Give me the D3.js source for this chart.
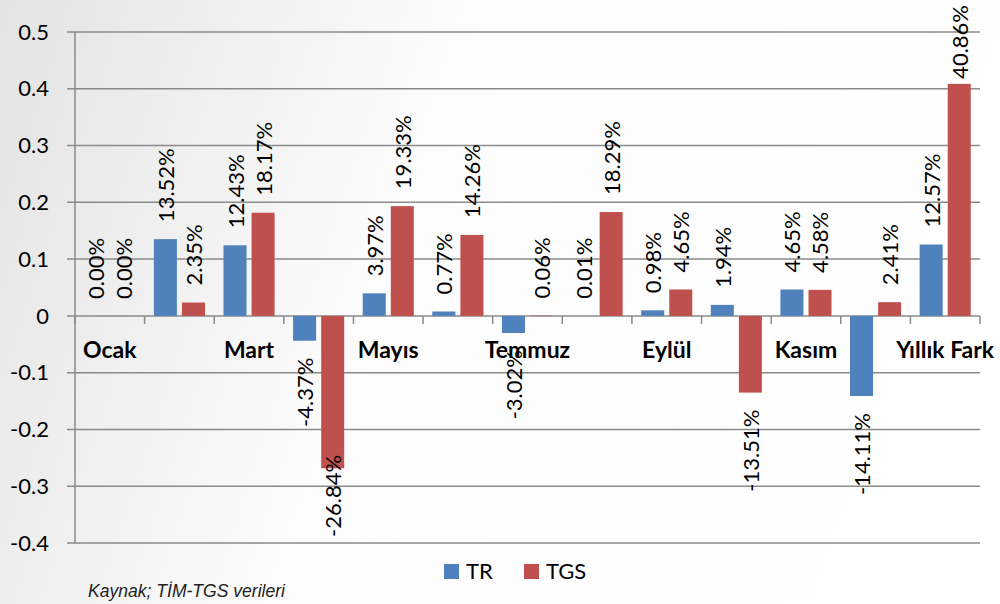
<!DOCTYPE html>
<html>
<head>
<meta charset="utf-8">
<script src="https://cdn.jsdelivr.net/npm/d3@7"></script>
<style>
  body { margin: 0; background: #fff; }
  svg { display: block; }
  text { font-family: Lato, "Open Sans", sans-serif; fill: #000; }
  .cat-label { font-weight: bold; font-size: 23px; }
  .tick-label { font-size: 22px; }
  .data-label { font-size: 22px; }
  .legend-label { font-size: 22px; }
  .source { font-family: "Liberation Sans", Arial, sans-serif; font-style: italic; font-size: 19px; fill: #222; }
</style>
</head>
<body>
<div id="chart"></div>
<script>
// months + yearly difference
const categories = ['Ocak', 'Şubat', 'Mart', 'Nisan', 'Mayıs', 'Haziran', 'Temmuz',
  'Ağustos', 'Eylül', 'Ekim', 'Kasım', 'Aralık', 'Yıllık Fark'];
const seriesNames = ['TR', 'TGS'];
const trValues = [0.0000, 0.1352, 0.1243, -0.0437, 0.0397, 0.0077, -0.0302,
  0.0001, 0.0098, 0.0194, 0.0465, -0.1411, 0.1257];
const tgsValues = [0.0000, 0.0235, 0.1817, -0.2684, 0.1933, 0.1426, 0.0006,
  0.1829, 0.0465, -0.1351, 0.0458, 0.0241, 0.4086];
const yTicks = [-0.4, -0.3, -0.2, -0.1, 0, 0.1, 0.2, 0.3, 0.4, 0.5];
const colors = ['#4f81bd', '#c0504d'];
const sourceText = 'Kaynak; TİM-TGS verileri';

// plain hyphen for negatives, like the original
const locale = d3.formatLocale({decimal: '.', thousands: ',', grouping: [3], currency: ['', ''], minus: '-'});

class GroupedBars {
  constructor(_config) {
    this.config = {
      parentElement: _config.parentElement,
      containerWidth: 1000,
      containerHeight: 604,
      margin: {top: 32, right: 20, bottom: 61, left: 75},
      labelGap: 17
    };
    this.initVis();
  }

  initVis() {
    let vis = this;
    vis.width = vis.config.containerWidth - vis.config.margin.left - vis.config.margin.right;
    vis.height = vis.config.containerHeight - vis.config.margin.top - vis.config.margin.bottom;

    vis.svg = d3.select(vis.config.parentElement).append('svg')
        .attr('width', vis.config.containerWidth)
        .attr('height', vis.config.containerHeight);

    // grey-to-white background wash
    const grad = vis.svg.append('defs').append('linearGradient')
        .attr('id', 'bg-gradient')
        .attr('x1', '0%').attr('x2', '100%')
        .attr('y1', '0%').attr('y2', '20%');
    grad.append('stop').attr('offset', '0%').attr('stop-color', '#e3e3e3');
    grad.append('stop').attr('offset', '45%').attr('stop-color', '#fcfcfc');
    grad.append('stop').attr('offset', '100%').attr('stop-color', '#ffffff');

    vis.svg.append('rect')
        .attr('width', vis.config.containerWidth)
        .attr('height', vis.config.containerHeight)
        .attr('fill', 'url(#bg-gradient)');

    vis.g = vis.svg.append('g')
        .attr('transform', `translate(${vis.config.margin.left},${vis.config.margin.top})`);

    vis.x = d3.scaleBand().domain(categories).range([0, vis.width]).padding(0);
    vis.x1 = d3.scaleBand().domain(seriesNames).range([0, vis.x.bandwidth()])
        .paddingInner(0.18).paddingOuter(0.33);
    vis.y = d3.scaleLinear().domain([-0.4, 0.5]).range([vis.height, 0]);

    vis.renderVis();
  }

  renderVis() {
    let vis = this;
    const y0 = vis.y(0);
    const fmtTick = locale.format('.1~f');
    const fmtPct = locale.format('.2%');

    // gridlines + y tick labels
    vis.g.append('g').selectAll('line')
        .data(yTicks)
      .join('line')
        .attr('x1', -8).attr('x2', vis.width)
        .attr('y1', d => vis.y(d)).attr('y2', d => vis.y(d))
        .attr('stroke', '#8a8a8a')
        .attr('stroke-width', 1.5);

    vis.g.append('g').selectAll('text')
        .data(yTicks)
      .join('text')
        .attr('class', 'tick-label')
        .attr('x', -26)
        .attr('y', d => vis.y(d))
        .attr('dy', '0.35em')
        .attr('text-anchor', 'end')
        .text(d => fmtTick(d));

    // y axis line
    vis.g.append('line')
        .attr('x1', 0).attr('x2', 0)
        .attr('y1', 0).attr('y2', vis.height)
        .attr('stroke', '#8a8a8a')
        .attr('stroke-width', 1.5);

    // category tick marks on the zero line
    const bounds = categories.map(c => vis.x(c)).concat([vis.width]);
    vis.g.append('g').selectAll('line')
        .data(bounds)
      .join('line')
        .attr('x1', d => d).attr('x2', d => d)
        .attr('y1', y0).attr('y2', y0 + 8)
        .attr('stroke', '#8a8a8a')
        .attr('stroke-width', 1.5);

    // bars
    const rows = categories.map((c, i) => ({cat: c, vals: [trValues[i], tgsValues[i]]}));

    const groups = vis.g.append('g').selectAll('g')
        .data(rows)
      .join('g')
        .attr('transform', d => `translate(${vis.x(d.cat)},0)`);

    groups.selectAll('rect')
        .data(d => d.vals.map((v, k) => ({key: seriesNames[k], value: v, idx: k})))
      .join('rect')
        .attr('x', d => vis.x1(d.key))
        .attr('width', vis.x1.bandwidth())
        .attr('y', d => Math.min(vis.y(d.value), y0))
        .attr('height', d => Math.abs(vis.y(d.value) - y0))
        .attr('fill', d => colors[d.idx]);

    // category labels (every other one, like Excel auto-skip)
    vis.g.append('g').selectAll('text')
        .data(categories.filter((c, i) => i % 2 === 0))
      .join('text')
        .attr('class', 'cat-label')
        .attr('x', d => vis.x(d) + vis.x.bandwidth() / 2)
        .attr('y', y0 + 42)
        .attr('text-anchor', 'middle')
        .text(d => d);

    // rotated data labels, kept inside the chart
    const topLimit = 5 - vis.config.margin.top;
    groups.selectAll('text')
        .data(d => d.vals.map((v, k) => ({key: seriesNames[k], value: v})))
      .join('text')
        .attr('class', 'data-label')
        .attr('dominant-baseline', 'central')
        .attr('text-anchor', d => d.value >= 0 ? 'start' : 'end')
        .text(d => fmtPct(d.value))
        .each(function(d) {
          const cx = vis.x1(d.key) + vis.x1.bandwidth() / 2;
          const len = this.getComputedTextLength();
          let py;
          if (d.value >= 0) {
            py = vis.y(d.value) - vis.config.labelGap;
            if (py - len < topLimit) py = topLimit + len;
          } else {
            py = vis.y(d.value) + vis.config.labelGap;
            if (py + len > vis.height - 6) py = vis.height - 6 - len;
          }
          d3.select(this).attr('transform', `translate(${cx},${py}) rotate(-90)`);
        });

    // legend
    const legend = vis.svg.append('g')
        .attr('transform', 'translate(444,564)');
    const items = legend.selectAll('g')
        .data(seriesNames)
      .join('g')
        .attr('transform', (d, i) => `translate(${i * 80},0)`);
    items.append('rect')
        .attr('width', 15).attr('height', 15)
        .attr('fill', (d, i) => colors[i]);
    items.append('text')
        .attr('class', 'legend-label')
        .attr('x', 22)
        .attr('y', 15)
        .text(d => d);

    vis.svg.append('text')
        .attr('class', 'source')
        .attr('x', 88)
        .attr('y', 597)
        .attr('textLength', 197)
        .attr('lengthAdjust', 'spacingAndGlyphs')
        .text(sourceText);
  }
}

new GroupedBars({parentElement: '#chart'});
</script>
</body>
</html>
